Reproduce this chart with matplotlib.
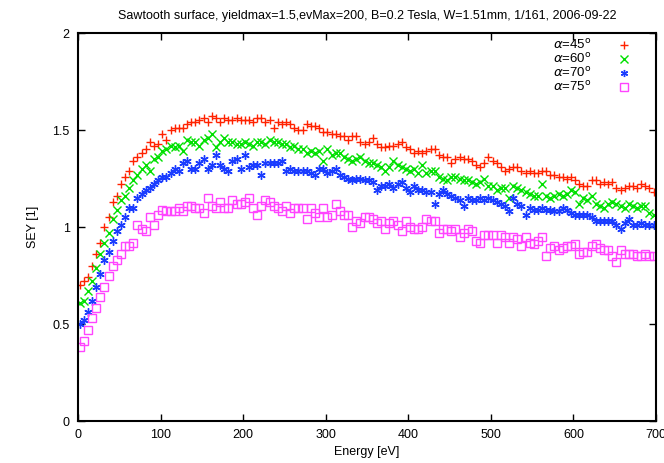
import numpy as np
import matplotlib
matplotlib.use("Agg")
import matplotlib.pyplot as plt

plt.rcParams['font.family'] = ['Liberation Sans', 'DejaVu Sans']

# energie [eV], une mesure tous les 5 eV
energie = np.arange(2, 700, 5)

sey_45 = [0.70, 0.72, 0.74, 0.80, 0.86, 0.92, 1.00, 1.05, 1.13, 1.16,
          1.22, 1.26, 1.29, 1.34, 1.36, 1.38, 1.40, 1.44, 1.42, 1.43,
          1.48, 1.45, 1.50, 1.51, 1.51, 1.51, 1.53, 1.54, 1.54, 1.55,
          1.56, 1.54, 1.57, 1.56, 1.54, 1.56, 1.55, 1.55, 1.56, 1.55,
          1.55, 1.55, 1.54, 1.56, 1.56, 1.54, 1.55, 1.51, 1.54, 1.53,
          1.54, 1.53, 1.51, 1.50, 1.50, 1.53, 1.52, 1.52, 1.51, 1.49,
          1.49, 1.48, 1.48, 1.47, 1.47, 1.45, 1.47, 1.47, 1.44, 1.43,
          1.44, 1.46, 1.43, 1.41, 1.41, 1.42, 1.42, 1.43, 1.44, 1.41,
          1.40, 1.38, 1.39, 1.38, 1.39, 1.40, 1.40, 1.37, 1.36, 1.36,
          1.33, 1.35, 1.36, 1.35, 1.35, 1.34, 1.32, 1.31, 1.33, 1.36,
          1.34, 1.33, 1.31, 1.29, 1.30, 1.31, 1.31, 1.29, 1.28, 1.29,
          1.28, 1.28, 1.29, 1.29, 1.27, 1.27, 1.26, 1.26, 1.25, 1.26,
          1.24, 1.22, 1.21, 1.21, 1.24, 1.24, 1.22, 1.23, 1.22, 1.23,
          1.20, 1.19, 1.20, 1.21, 1.21, 1.20, 1.22, 1.21, 1.20, 1.18]

sey_60 = [0.61, 0.62, 0.67, 0.72, 0.79, 0.86, 0.92, 0.97, 1.04, 1.09,
          1.14, 1.16, 1.20, 1.24, 1.27, 1.30, 1.32, 1.29, 1.35, 1.36,
          1.39, 1.40, 1.42, 1.41, 1.42, 1.39, 1.45, 1.44, 1.44, 1.42,
          1.45, 1.46, 1.48, 1.41, 1.44, 1.46, 1.44, 1.44, 1.43, 1.43,
          1.44, 1.43, 1.42, 1.44, 1.44, 1.43, 1.45, 1.44, 1.44, 1.43,
          1.43, 1.41, 1.42, 1.40, 1.40, 1.38, 1.39, 1.38, 1.39, 1.34,
          1.40, 1.37, 1.38, 1.38, 1.36, 1.35, 1.34, 1.35, 1.36, 1.34,
          1.33, 1.33, 1.32, 1.31, 1.29, 1.31, 1.34, 1.32, 1.31, 1.30,
          1.29, 1.30, 1.28, 1.32, 1.28, 1.29, 1.29, 1.26, 1.25, 1.24,
          1.26, 1.26, 1.25, 1.24, 1.24, 1.23, 1.22, 1.23, 1.25, 1.21,
          1.21, 1.19, 1.20, 1.20, 1.15, 1.21, 1.20, 1.19, 1.18, 1.17,
          1.16, 1.16, 1.22, 1.16, 1.15, 1.16, 1.17, 1.16, 1.17, 1.19,
          1.18, 1.12, 1.15, 1.14, 1.16, 1.12, 1.11, 1.10, 1.12, 1.13,
          1.12, 1.11, 1.10, 1.12, 1.11, 1.10, 1.11, 1.11, 1.07, 1.06]

sey_70 = [0.50, 0.52, 0.56, 0.62, 0.69, 0.76, 0.83, 0.87, 0.93, 0.98,
          1.01, 1.05, 1.10, 1.10, 1.15, 1.17, 1.19, 1.20, 1.22, 1.24,
          1.26, 1.26, 1.28, 1.30, 1.29, 1.33, 1.34, 1.30, 1.30, 1.33,
          1.35, 1.30, 1.32, 1.37, 1.32, 1.30, 1.29, 1.34, 1.35, 1.30,
          1.37, 1.31, 1.32, 1.32, 1.27, 1.33, 1.33, 1.33, 1.33, 1.34,
          1.29, 1.30, 1.29, 1.29, 1.29, 1.29, 1.28, 1.27, 1.30, 1.30,
          1.28, 1.29, 1.30, 1.27, 1.26, 1.25, 1.24, 1.25, 1.25, 1.24,
          1.24, 1.23, 1.19, 1.21, 1.21, 1.22, 1.20, 1.22, 1.23, 1.20,
          1.18, 1.21, 1.19, 1.19, 1.18, 1.18, 1.12, 1.17, 1.19, 1.17,
          1.16, 1.15, 1.14, 1.11, 1.15, 1.14, 1.14, 1.15, 1.14, 1.15,
          1.14, 1.13, 1.12, 1.11, 1.08, 1.15, 1.12, 1.11, 1.06, 1.10,
          1.09, 1.09, 1.10, 1.09, 1.09, 1.08, 1.08, 1.10, 1.09, 1.07,
          1.06, 1.06, 1.06, 1.06, 1.05, 1.03, 1.03, 1.03, 1.03, 1.03,
          1.01, 0.99, 1.02, 1.04, 1.01, 1.01, 1.02, 1.01, 1.01, 1.01]

sey_75 = [0.38, 0.41, 0.47, 0.53, 0.58, 0.64, 0.69, 0.75, 0.80, 0.83,
          0.86, 0.90, 0.90, 0.92, 1.01, 0.99, 0.98, 1.05, 1.01, 1.06,
          1.09, 1.08, 1.08, 1.08, 1.10, 1.08, 1.11, 1.11, 1.10, 1.10,
          1.07, 1.15, 1.11, 1.10, 1.13, 1.10, 1.10, 1.14, 1.12, 1.12,
          1.13, 1.15, 1.10, 1.06, 1.11, 1.14, 1.13, 1.11, 1.10, 1.08,
          1.11, 1.07, 1.10, 1.10, 1.10, 1.04, 1.10, 1.07, 1.05, 1.10,
          1.05, 1.06, 1.12, 1.08, 1.06, 1.06, 1.00, 1.03, 1.02, 1.05,
          1.05, 1.04, 1.02, 1.03, 0.99, 1.02, 1.03, 1.01, 0.98, 1.03,
          1.00, 0.99, 0.99, 1.00, 1.04, 1.03, 1.03, 0.97, 0.99, 0.99,
          0.98, 0.99, 0.95, 0.97, 0.99, 0.98, 0.93, 0.92, 0.96, 0.96,
          0.96, 0.92, 0.96, 0.95, 0.92, 0.95, 0.94, 0.90, 0.95, 0.92,
          0.91, 0.93, 0.95, 0.85, 0.89, 0.90, 0.88, 0.89, 0.90, 0.90,
          0.91, 0.86, 0.87, 0.87, 0.90, 0.91, 0.89, 0.88, 0.88, 0.85,
          0.82, 0.88, 0.86, 0.86, 0.86, 0.85, 0.85, 0.86, 0.85, 0.85]

angles = ['45', '60', '70', '75']
series = [sey_45, sey_60, sey_70, sey_75]
cores = ['#ff2200', '#00e000', '#1a3cff', '#ff44ff']
marcadores = ['+', 'x', (6, 2, 0), 's']

fig = plt.figure(figsize=(6.64, 4.63), dpi=100)
ax = fig.add_axes([0.1175, 0.0907, 0.8705, 0.838])

for ang, sey, cor, m in zip(angles, series, cores, marcadores):
    rotulo = r'$\alpha$=' + ang + r'$^{\rm o}$'
    if m == 's':
        ax.plot(energie, sey, ls='none', marker=m, ms=6, mfc='none', mec=cor,
                mew=1.0, label=rotulo)
    else:
        ax.plot(energie, sey, ls='none', marker=m, ms=6, color=cor, mew=1.0,
                label=rotulo)

ax.set_xlim(0, 700)
ax.set_ylim(0, 2)
ax.set_xticks(range(0, 701, 100))
ax.set_yticks([0, 0.5, 1, 1.5, 2])
ax.set_yticklabels(['0', '0.5', '1', '1.5', '2'])
ax.tick_params(direction='in', top=True, right=True, length=5, width=1,
               labelsize=9, pad=6)
for s in ax.spines.values():
    s.set_linewidth(1.5)

ax.set_xlabel('Energy [eV]', fontsize=9, labelpad=3)
ax.set_ylabel('SEY [1]', fontsize=9, labelpad=10)
ax.set_title('Sawtooth surface, yieldmax=1.5,evMax=200, B=0.2 Tesla, W=1.51mm, 1/161, 2006-09-22',
             fontsize=9, pad=10)

ax.legend(loc='upper right', markerfirst=False, frameon=False, fontsize=9.5,
          markerscale=0.85, handlelength=1.2, handletextpad=1.9,
          labelspacing=0.0, borderaxespad=0.3, bbox_to_anchor=(0.975, 1.01))

fig.savefig('out.png', dpi=100)
